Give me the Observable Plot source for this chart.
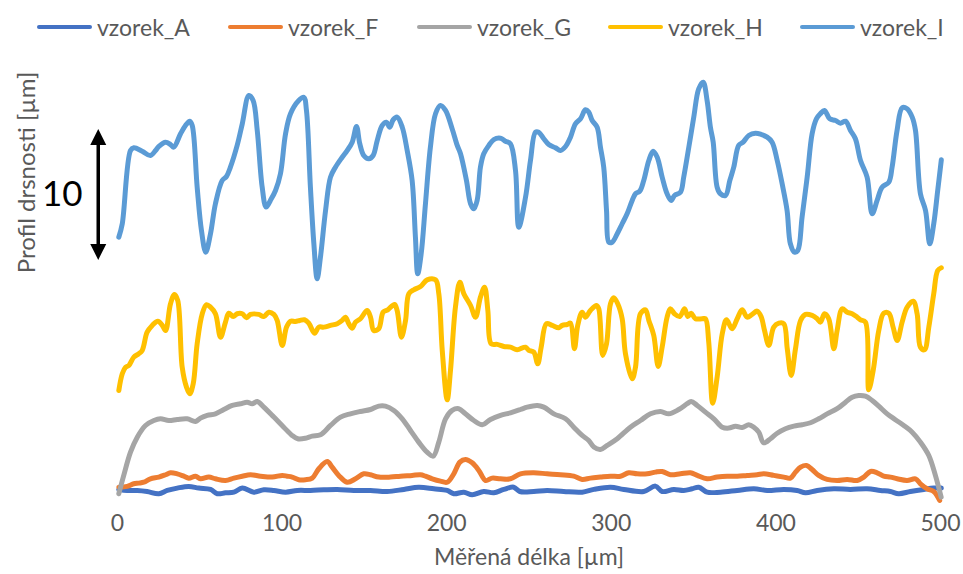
<!DOCTYPE html>
<html>
<head>
<meta charset="utf-8">
<script src="https://cdn.jsdelivr.net/npm/d3@7"></script>
<script src="https://cdn.jsdelivr.net/npm/@observablehq/plot@0.6"></script>
<style>
  body { margin: 0; background: #fff; font-family: Lato, sans-serif; }
  #legend { position: relative; width: 963px; height: 50px; }
  .item { position: absolute; top: 13px; height: 28px; display: flex; align-items: center; font-size: 23px; color: #595959; white-space: nowrap; }
  .swatch { width: 55px; height: 4px; border-radius: 2px; margin-right: 5px; }
</style>
</head>
<body>
<div id="legend"></div>
<div id="chart"></div>
<script>
// ---- data (x in µm, y = profile height in µm incl. the chart's vertical offsets) ----
const seriesNames  = ["vzorek_A", "vzorek_F", "vzorek_G", "vzorek_H", "vzorek_I"];
const seriesColors = ["#4472C4", "#ED7D31", "#A5A5A5", "#FFC000", "#5B9BD5"];
const xTicks = [0, 100, 200, 300, 400, 500];
const xTitle = "Měřená délka [µm]";
const yTitle = "Profil drsnosti [µm]";
const scaleBarX = -11.7, scaleBarFrom = 17.6, scaleBarLength = 10, scaleBarLabel = "10";

const vzorekA = [[0.8,0.08],[5.9,0],[12.0,0],[18.0,-0.08],[25.1,-0.25],[30.2,0],[36.3,0.18],[43.3,0.31],[49.4,0.18],[56.5,0.08],[60.6,-0.25],[65.6,-0.18],[70.7,-0.13],[75.8,0.18],[82.8,-0.13],[88.9,0.05],[95.0,0],[102.1,-0.13],[109.2,0],[117.2,0],[125.3,0.05],[133.5,0.08],[143.6,0],[153.7,0],[163.8,-0.08],[173.9,0.08],[183.0,0.25],[192.2,0.13],[200.3,0],[204.3,-0.25],[210.4,-0.13],[215.5,-0.33],[222.5,-0.08],[228.6,-0.18],[234.7,0.08],[240.7,0.25],[244.4,-0.08],[252.9,-0.08],[261.0,0],[271.1,-0.08],[282.3,-0.13],[289.4,0.08],[299.5,0.25],[307.6,0.08],[319.7,-0.08],[326.8,0.33],[330.9,-0.08],[338.0,0.08],[344.0,0],[349.1,0.13],[353.1,0.25],[358.2,-0.13],[366.3,-0.13],[376.5,0],[386.6,0.13],[394.7,0],[404.8,0.08],[412.9,0],[418.0,-0.18],[425.1,0],[435.2,0.13],[445.3,0.08],[455.4,0.13],[463.5,0],[469.6,-0.08],[474.6,-0.25],[481.7,-0.08],[489.8,0.08],[495.9,0.18],[500.5,0.18]];

const vzorekF = [[0.8,0.25],[5.9,0.31],[9.9,0.51],[12.9,0.56],[16.0,0.63],[20.0,0.89],[25.1,1.02],[29.2,1.20],[32.2,1.35],[36.3,1.27],[40.3,1.09],[43.3,0.94],[47.4,1.09],[50.4,0.89],[55.5,1.02],[59.5,0.89],[65.6,0.76],[70.7,0.94],[75.8,1.09],[80.8,1.20],[86.9,1.09],[94.0,1.02],[100.1,1.15],[103.1,1.09],[106.1,1.02],[110.1,0.82],[114.2,0.82],[118.3,0.94],[122.3,1.66],[127.4,2.21],[130.4,1.78],[134.4,1.15],[139.5,0.63],[144.6,0.89],[149.6,1.27],[153.7,1.20],[158.7,1.02],[165.8,1.02],[171.9,1.09],[179.0,1.15],[184.1,1.20],[187.1,1.09],[191.2,0.89],[196.2,0.71],[200.3,0.63],[204.3,1.27],[208.0,2.16],[211.4,2.37],[215.5,2.11],[219.5,1.53],[223.6,0.76],[227.6,0.94],[232.7,0.89],[238.7,0.89],[244.8,1.27],[252.9,1.35],[261.0,1.27],[269.1,1.20],[277.2,1.09],[282.3,0.84],[287.3,0.94],[293.4,1.02],[299.5,1.09],[305.6,1.09],[310.6,1.35],[315.7,1.27],[321.8,1.27],[326.8,1.40],[330.9,1.45],[335.9,1.20],[342.0,1.27],[348.1,1.35],[352.2,1.15],[358.2,0.89],[364.3,1.02],[370.4,1.09],[376.5,1.09],[382.5,1.15],[388.6,1.20],[392.6,1.27],[398.7,1.15],[404.8,1.02],[408.8,0.94],[411.9,1.40],[415.0,1.78],[418.6,1.91],[422.0,1.60],[426.0,1.15],[431.1,0.84],[437.2,0.76],[443.3,0.84],[449.4,0.76],[453.4,1.02],[457.5,1.45],[461.5,1.35],[465.5,1.09],[469.6,1.02],[473.7,0.89],[479.7,0.76],[484.8,0.89],[487.8,0.51],[491.9,0.13],[495.9,-0.08],[499.5,-0.76]];

const vzorekG = [[0.8,-0.25],[3.8,1.15],[7.9,2.92],[12.0,4.07],[17.0,4.96],[22.1,5.34],[26.1,5.47],[31.2,5.34],[36.3,5.42],[42.3,5.47],[47.4,5.27],[50.4,5.52],[54.5,5.73],[59.5,5.85],[64.6,6.18],[69.7,6.49],[74.7,6.62],[78.8,6.74],[81.8,6.62],[84.9,6.79],[88.9,6.36],[95.0,5.60],[101.0,4.83],[106.1,4.20],[109.5,3.95],[114.2,3.99],[118.3,4.15],[123.3,4.25],[129.4,4.96],[135.5,5.60],[141.5,5.85],[147.6,6.03],[153.7,6.18],[158.7,6.44],[162.8,6.44],[167.9,6.11],[173.0,5.47],[178.0,4.58],[183.0,3.69],[188.1,2.92],[191.8,2.62],[195.2,3.69],[199.3,5.47],[203.3,6.11],[207.3,6.24],[211.4,5.85],[216.5,5.34],[221.6,5.02],[226.6,5.42],[232.7,5.73],[238.7,5.93],[244.8,6.18],[248.9,6.36],[255.0,6.49],[259.0,6.36],[265.1,5.85],[272.2,5.47],[277.2,4.83],[282.3,4.20],[286.3,3.82],[289.4,3.31],[293.4,3.13],[297.5,3.44],[303.6,3.95],[311.6,4.83],[317.7,5.34],[323.8,5.85],[329.9,6.03],[334.9,5.85],[341.0,6.18],[346.1,6.62],[348.5,6.79],[352.2,6.49],[357.2,5.98],[362.3,5.47],[367.4,4.83],[371.4,4.76],[375.5,4.91],[379.5,4.81],[383.5,5.02],[386.6,4.83],[389.6,4.45],[392.6,3.64],[396.7,3.95],[400.8,4.37],[405.8,4.71],[410.9,4.91],[415.9,5.02],[421.0,5.17],[426.0,5.47],[431.1,5.85],[437.2,6.24],[442.3,6.74],[446.3,7.12],[450.3,7.25],[454.4,7.20],[458.5,6.87],[462.5,6.44],[467.6,5.85],[472.6,5.40],[477.7,4.96],[482.8,4.45],[487.8,3.69],[492.9,2.67],[496.9,1.15],[500.4,-0.51]];

const vzorekH = [[0.8,7.63],[2.9,8.91],[4.9,9.41],[6.9,9.54],[9.9,10.18],[12.9,10.44],[15.0,10.69],[18.0,12.08],[21.1,12.60],[24.5,12.92],[27.2,12.60],[29.2,12.21],[32.2,14.25],[34.6,14.96],[36.6,14.50],[39.3,9.41],[41.9,7.89],[43.9,7.38],[46.0,8.15],[48.4,11.20],[51.5,13.49],[54.1,14.18],[56.5,13.99],[59.5,13.49],[62.6,11.70],[65.6,12.85],[67.6,13.53],[70.3,13.28],[72.7,13.49],[75.8,13.49],[78.4,13.18],[80.8,13.44],[85.8,13.44],[88.9,13.28],[91.9,13.61],[95.0,13.44],[97.0,12.98],[100.1,11.07],[102.7,12.47],[105.1,12.92],[108.1,12.90],[110.7,12.98],[113.6,13.03],[116.2,12.77],[119.7,12.01],[122.3,12.47],[125.3,12.47],[129.4,12.60],[133.5,12.73],[136.5,12.98],[138.5,13.23],[140.5,12.73],[142.6,12.39],[144.6,12.85],[147.6,13.11],[151.7,13.74],[153.7,13.23],[155.7,12.21],[158.7,12.34],[161.4,13.61],[164.2,13.79],[168.3,14.20],[169.9,13.74],[172.5,11.70],[175.0,12.98],[177.0,15.02],[180.0,15.32],[184.1,15.57],[188.1,16.08],[193.2,16.08],[195.2,15.02],[197.3,10.69],[200.3,6.92],[202.3,9.16],[205.3,13.99],[208.0,15.90],[210.4,15.02],[214.5,14.12],[217.5,13.23],[220.5,14.76],[223.0,15.52],[225.0,13.74],[227.0,11.20],[230.7,11.15],[234.7,10.99],[238.7,10.94],[242.8,10.74],[247.9,10.94],[249.9,10.69],[252.9,10.56],[255.3,9.67],[257.4,10.94],[260.6,12.73],[264.1,12.60],[268.1,12.42],[270.2,12.60],[273.2,12.67],[275.2,12.77],[277.6,10.82],[279.6,12.60],[282.3,13.61],[284.3,13.23],[287.3,13.74],[291.0,14.12],[292.4,13.87],[294.8,10.31],[297.1,11.20],[299.5,14.25],[301.5,14.71],[303.9,14.25],[306.6,13.11],[308.6,10.44],[312.7,8.53],[314.7,9.41],[317.7,13.49],[320.8,13.79],[322.8,12.98],[325.8,11.83],[328.5,9.47],[330.9,10.94],[333.9,13.23],[335.9,13.87],[338.4,13.49],[341.6,13.28],[344.5,13.87],[346.5,13.28],[348.5,13.53],[351.1,13.11],[355.2,13.11],[357.2,13.11],[359.2,11.32],[361.6,6.66],[364.3,8.65],[367.4,11.96],[370.0,13.03],[373.4,12.34],[376.5,13.11],[379.5,13.79],[382.5,13.23],[385.6,13.44],[388.6,13.69],[391.0,13.28],[393.1,12.21],[395.7,11.07],[398.7,12.47],[401.8,12.77],[404.8,12.73],[406.9,10.82],[409.3,8.78],[411.9,10.82],[415.0,12.98],[418.0,13.44],[422.0,13.36],[425.1,13.11],[427.1,12.85],[429.5,13.49],[432.1,13.11],[435.2,10.82],[437.2,12.21],[440.3,13.87],[443.3,13.61],[446.3,13.49],[449.4,13.23],[451.4,13.03],[454.4,12.85],[456.4,7.69],[459.1,9.16],[462.5,12.21],[465.5,13.53],[468.6,13.53],[471.2,12.47],[473.7,11.45],[476.7,12.85],[479.7,13.99],[483.4,14.45],[485.8,13.49],[487.8,10.94],[490.3,10.74],[492.9,12.47],[495.9,15.02],[498.3,16.79],[500.5,17.00]];

const vzorekI = [[0.8,19.34],[2.9,20.36],[7.9,25.95],[9.9,26.16],[15.0,25.90],[20.0,25.57],[23.1,25.95],[25.1,26.26],[29.2,26.59],[32.2,26.41],[34.2,26.21],[38.3,27.23],[41.3,27.86],[43.9,28.19],[45.4,27.86],[48.4,23.15],[51.0,19.85],[53.6,18.19],[56.5,19.60],[59.5,21.89],[63.6,23.66],[66.2,23.97],[68.6,24.68],[72.7,26.34],[75.8,27.99],[79.8,30.15],[82.4,29.77],[84.9,27.48],[87.9,23.15],[90.3,21.63],[92.9,22.14],[96.0,22.90],[99.0,24.18],[102.1,27.23],[105.1,28.76],[110.1,29.77],[113.2,30.02],[114.8,29.01],[117.2,23.15],[119.3,18.83],[121.3,16.16],[123.3,17.81],[126.4,21.37],[129.4,23.92],[132.4,24.68],[136.5,25.44],[139.5,25.95],[142.6,26.59],[145.2,27.79],[147.2,26.47],[149.6,25.57],[152.7,25.32],[155.3,25.57],[157.8,26.72],[160.8,27.86],[163.4,28.11],[165.4,27.73],[167.5,28.30],[169.9,28.50],[173.0,27.73],[176.0,25.95],[179.0,23.66],[181.0,19.34],[182.4,16.54],[184.5,18.07],[187.1,21.89],[190.1,26.21],[193.2,28.76],[196.2,29.39],[199.3,29.01],[203.3,27.61],[206.4,26.34],[208.4,25.70],[212.0,23.66],[214.5,21.89],[216.5,21.50],[218.5,22.14],[220.5,24.68],[222.5,25.70],[225.6,26.34],[228.6,26.79],[232.7,26.89],[235.7,26.66],[238.7,26.47],[241.8,24.43],[243.8,20.10],[247.9,22.39],[250.9,25.19],[253.9,27.35],[255.9,27.35],[259.0,26.85],[262.0,26.41],[266.1,26.16],[269.1,25.95],[272.2,26.26],[275.2,26.97],[278.2,27.99],[281.3,28.37],[284.3,29.06],[286.3,28.88],[288.4,28.24],[291.4,27.73],[293.4,26.21],[295.4,24.68],[297.1,21.37],[298.5,18.95],[300.5,18.95],[303.6,19.60],[306.6,20.36],[309.6,21.12],[312.7,22.14],[314.7,22.65],[317.3,22.85],[319.7,23.66],[322.8,25.19],[325.4,25.90],[327.9,25.44],[330.9,23.92],[333.9,22.65],[336.4,22.14],[338.4,22.52],[342.0,22.77],[344.0,23.92],[347.1,26.21],[350.1,28.50],[353.1,30.66],[355.8,31.17],[358.2,29.77],[360.2,27.73],[361.9,26.59],[364.3,23.15],[366.3,22.65],[369.4,22.52],[372.0,23.66],[374.4,24.68],[377.4,26.34],[380.1,26.59],[383.5,27.10],[387.6,27.27],[391.0,27.18],[394.7,26.97],[397.7,26.59],[400.8,25.19],[403.8,23.41],[406.8,21.37],[408.8,18.83],[411.3,18.19],[413.3,18.32],[415.9,20.86],[419.0,23.92],[422.0,27.23],[424.6,28.37],[427.0,28.76],[429.5,29.01],[432.7,28.37],[436.2,28.24],[439.2,28.04],[442.3,28.19],[445.3,27.48],[448.3,26.85],[451.4,25.19],[455.4,23.92],[458.5,21.12],[461.5,22.14],[464.5,23.15],[468.6,23.53],[470.6,24.68],[473.6,27.48],[476.7,29.21],[479.7,29.14],[482.8,28.50],[484.8,27.48],[487.8,22.65],[490.9,21.37],[493.5,18.83],[495.9,20.36],[498.3,22.90],[500.5,25.24]];

// ---- build ----
const seriesData = [vzorekA, vzorekF, vzorekG, vzorekH, vzorekI];
const rows = seriesData.flatMap((pts, i) => pts.map(([x, y]) => ({series: seriesNames[i], x, y})));
const bar = [{x: scaleBarX, bottom: scaleBarFrom, top: scaleBarFrom + scaleBarLength, label: scaleBarLabel}];

// legend (HTML, above the SVG)
const legendLeft = [37, 228, 417, 608, 800];
const legend = document.getElementById("legend");
seriesNames.forEach((name, i) => {
  const it = document.createElement("div");
  it.className = "item";
  it.style.left = legendLeft[i] + "px";
  it.innerHTML = `<span class="swatch" style="background:${seriesColors[i]}"></span><span>${name}</span>`;
  legend.appendChild(it);
});

// arrow heads: tip at the anchor point, fixed pixel geometry
const headUp = {draw(ctx) { ctx.moveTo(0, 0); ctx.lineTo(8, 16); ctx.lineTo(-8, 16); ctx.closePath(); }};
const headDown = {draw(ctx) { ctx.moveTo(0, 0); ctx.lineTo(8, -16); ctx.lineTo(-8, -16); ctx.closePath(); }};

const chart = Plot.plot({
  width: 963,
  height: 524,
  marginLeft: 117,
  marginRight: 23,
  marginTop: 20,
  marginBottom: 64,
  style: {fontFamily: "Lato, sans-serif", fontSize: "23px", color: "#595959", background: "white", overflow: "visible"},
  x: {domain: [0, 500], ticks: xTicks, tickSize: 0, tickPadding: 4, label: null},
  y: {domain: [-1.53, 32.06], axis: null},
  color: {domain: seriesNames, range: seriesColors},
  marks: [
    Plot.line(rows, {x: "x", y: "y", z: "series", stroke: "series", strokeWidth: 5, curve: "catmull-rom", strokeLinejoin: "round", strokeLinecap: "round"}),
    // y1 = top end, y2 = bottom end so the insets shorten the shaft under the heads
    Plot.ruleX(bar, {x: "x", y1: "top", y2: "bottom", stroke: "black", strokeWidth: 3.5, insetTop: 10, insetBottom: 10}),
    Plot.dot(bar, {x: "x", y: "top", symbol: headUp, r: 6, fill: "black", stroke: null}),
    Plot.dot(bar, {x: "x", y: "bottom", symbol: headDown, r: 6, fill: "black", stroke: null}),
    Plot.text(bar, {x: "x", y: d => (d.top + d.bottom) / 2, text: "label", dx: -36, fontSize: 35, fill: "black"}),
    Plot.text([xTitle], {frameAnchor: "bottom", text: d => d, dy: 47, fontSize: 23, fill: "#595959", lineAnchor: "middle", textAnchor: "middle"}),
    Plot.text([yTitle], {frameAnchor: "left", text: d => d, rotate: -90, dx: -90, dy: -118, fontSize: 24, fill: "#595959", lineAnchor: "middle", textAnchor: "middle"})
  ]
});
document.getElementById("chart").appendChild(chart);
</script>
</body>
</html>
